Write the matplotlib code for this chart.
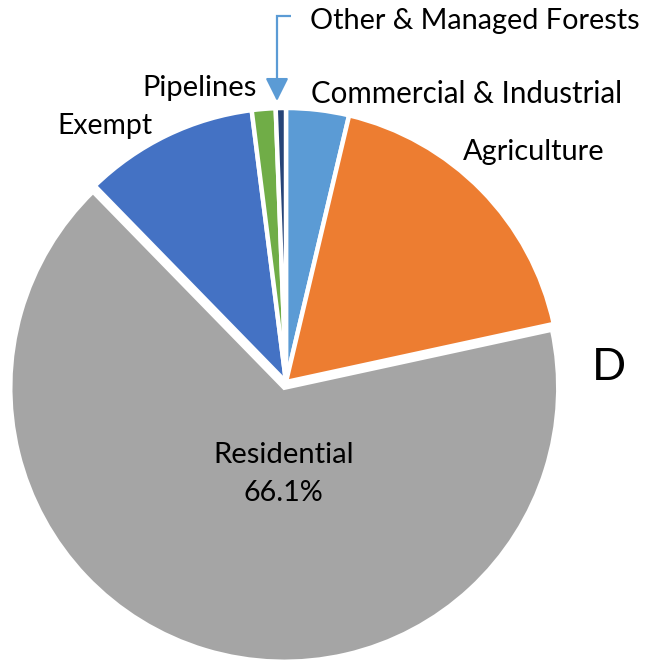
import matplotlib
matplotlib.use("Agg")
import matplotlib.pyplot as plt

# ---- data ----
categories = ["Commercial & Industrial", "Agriculture", "Residential",
              "Exempt", "Pipelines", "Other & Managed Forests"]
shares = [3.7, 17.9, 66.1, 10.3, 1.4, 0.6]
colors = ["#5B9BD5", "#ED7D31", "#A5A5A5", "#4472C4", "#70AD47", "#264478"]
exploded = "Residential"

W, H = 649, 666
fig = plt.figure(figsize=(W / 100, H / 100), dpi=100)
ax = fig.add_axes([0, 0, 1, 1])

FONT = "Lato"

def Y(y):
    return H - y

cx, cy, R = 286, 382, 274
explode = [6 if c == exploded else 0 for c in categories]  # pixel offset
ax.pie(shares, colors=colors, startangle=90, counterclock=False,
       center=(cx, Y(cy)), radius=R, explode=explode,
       wedgeprops=dict(edgecolor="white", linewidth=3.2), frame=True)
ax.set_xlim(0, W)
ax.set_ylim(0, H)
ax.set_aspect("equal")
ax.axis("off")

fig.canvas.draw()
renderer = fig.canvas.get_renderer()

def fit_text(s, x0, x1, baseline, ha="left", color="black", start=20):
    t = ax.text(x0 if ha == "left" else (x0 + x1) / 2, Y(baseline), s,
                ha=ha, va="baseline", fontsize=start, family=FONT, color=color)
    w = t.get_window_extent(renderer).width
    t.set_fontsize(start * (x1 - x0) / w)
    return t

fit_text("Other & Managed Forests", 310, 640, 29)
fit_text("Commercial & Industrial", 311, 623, 103)
fit_text("Agriculture", 463, 605, 160)
fit_text("Pipelines", 142, 257, 96)
fit_text("Exempt", 57, 152, 134)
fit_text("Residential", 213, 354, 463, ha="center")
fit_text("66.1%", 243, 323, 501, ha="center")
fit_text("D", 592, 626, 380)

# leader arrow for the tiny slice
arrow_c = "#5B9BD5"
ax.plot([291, 277, 277], [Y(16), Y(16), Y(90)], color=arrow_c, lw=1.6,
        solid_capstyle="butt", solid_joinstyle="miter")
ax.annotate("", xy=(277, Y(101)), xytext=(277, Y(86)),
            arrowprops=dict(arrowstyle="-|>,head_length=1.0,head_width=0.5",
                            color=arrow_c, lw=1.6, shrinkA=0, shrinkB=0,
                            mutation_scale=14))

fig.savefig("out.png", dpi=100)
